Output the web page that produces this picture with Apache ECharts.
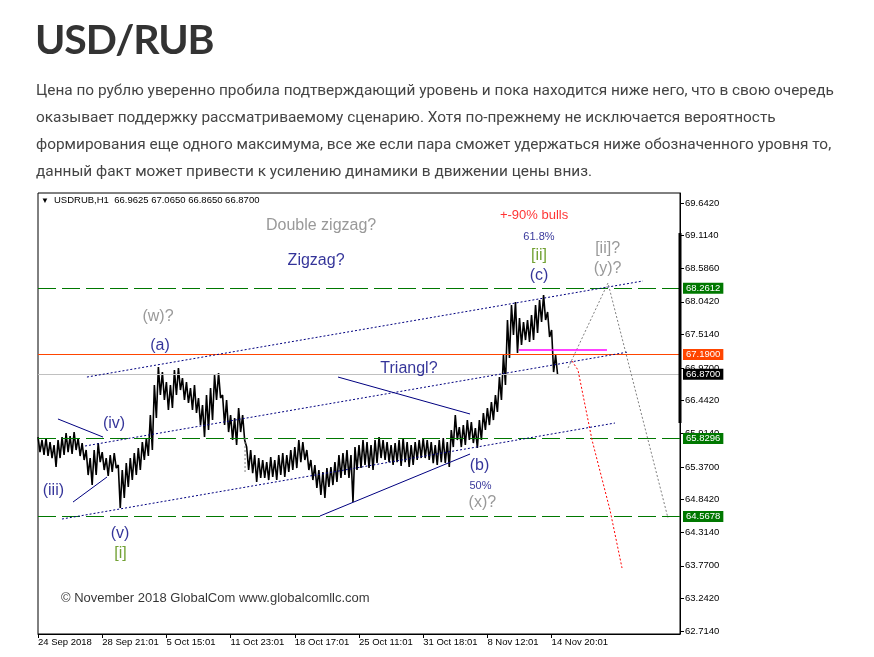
<!DOCTYPE html>
<html><head><meta charset="utf-8">
<script src="https://cdn.jsdelivr.net/npm/echarts@6/dist/echarts.min.js"></script>
<style>
html,body{margin:0;padding:0;background:#fff;width:874px;height:657px;overflow:hidden;}
#chart{position:absolute;left:0;top:0;width:874px;height:657px;}
#title{position:absolute;left:35px;top:14px;font-family:Lato,sans-serif;font-weight:bold;font-size:41px;letter-spacing:-1.1px;line-height:1.2;color:#333;margin:0;white-space:nowrap;}
#para{position:absolute;left:36px;top:77px;font-size:16px;line-height:27px;color:#444;white-space:nowrap;}
</style></head>
<body>
<div id="chart"></div>
<div id="title">USD/RUB</div>
<div id="para"></div>
<script>
// ---------- text ----------
const paraLines = [
  'Цена по рублю уверенно пробила подтверждающий уровень и пока находится ниже него, что в свою очередь',
  'оказывает поддержку рассматриваемому сценарию. Хотя по-прежнему не исключается вероятность',
  'формирования еще одного максимума, все же если пара сможет удержаться ниже обозначенного уровня то,',
  'данный факт может привести к усилению динамики в движении цены вниз.'
];

// ---------- data ----------
const xLabels = ['24 Sep 2018','28 Sep 21:01','5 Oct 15:01','11 Oct 23:01','18 Oct 17:01','25 Oct 11:01','31 Oct 18:01','8 Nov 12:01','14 Nov 20:01'];
const yTicks = [62.714,63.242,63.770,64.314,64.842,65.370,65.914,66.442,66.970,67.514,68.042,68.586,69.114,69.642];

// H1 price range, one entry per 4 bars (high / low)
const barHigh = [65.854,65.806,65.838,65.773,65.725,65.806,65.854,65.919,65.870,65.935,
65.838,65.757,65.644,65.514,65.644,65.757,65.611,65.514,65.563,65.595,
65.401,65.320,65.433,65.514,65.595,65.676,65.773,65.838,66.210,66.696,
66.987,66.906,66.744,66.696,66.939,66.971,66.809,66.744,66.647,66.696,
66.486,66.372,66.534,66.647,66.858,66.890,66.534,66.453,66.210,66.162,
66.324,66.210,65.692,65.644,65.563,65.514,65.482,65.449,65.530,65.482,
65.563,65.595,65.563,65.644,65.692,65.806,65.773,65.644,65.482,65.401,
65.320,65.288,65.352,65.369,65.449,65.563,65.595,65.644,65.563,65.692,
65.725,65.806,65.773,65.725,65.806,65.854,65.806,65.773,65.725,65.757,
65.806,65.838,65.773,65.725,65.773,65.806,65.838,65.806,65.773,65.725,
65.806,65.838,65.773,65.968,66.210,66.016,66.048,66.129,66.097,66.000,
66.129,66.243,66.324,66.421,66.534,66.825,67.182,67.748,67.991,68.039,
67.780,67.716,67.748,67.829,67.991,68.072,68.153,67.878,67.586,67.182];
const barLow = [65.611,65.563,65.547,65.514,65.369,65.514,65.563,65.611,65.579,65.644,
65.547,65.482,65.239,65.077,65.239,65.449,65.320,65.223,65.288,65.352,
64.705,64.867,65.045,65.158,65.239,65.320,65.482,65.547,65.644,66.162,
66.534,66.453,66.291,66.324,66.534,66.615,66.453,66.405,66.291,66.243,
66.048,65.854,65.968,66.129,66.453,66.486,66.048,65.935,65.806,65.725,
65.935,65.806,65.320,65.271,65.126,65.191,65.191,65.158,65.207,65.158,
65.239,65.207,65.288,65.320,65.352,65.449,65.482,65.320,65.158,65.029,
64.915,64.867,65.045,65.077,65.126,65.191,65.239,65.191,64.802,65.320,
65.352,65.401,65.352,65.320,65.433,65.514,65.482,65.449,65.401,65.449,
65.385,65.449,65.369,65.401,65.482,65.514,65.514,65.482,65.433,65.401,
65.449,65.433,65.369,65.692,65.806,65.692,65.725,65.806,65.757,65.676,
65.806,65.968,66.048,66.129,66.259,66.453,66.696,67.133,67.505,67.214,
67.343,67.424,67.392,67.424,67.538,67.716,67.748,67.473,66.906,66.858];

const levelGreen = [68.2612, 65.8296, 64.5678];
const levelOrange = [67.19];
const levelBid = [66.87];

// drawn objects, in [bar, price]
const channelLines = [
  [[48.8,66.825],[603.1,68.380]],
  [[46.9,65.709],[588.2,67.230]],
  [[23.9,64.527],[575.2,66.081]]
];
const solidLines = [
  [[19.9,66.146],[64.8,65.854]],
  [[34.9,64.802],[68.8,65.207]],
  [[299.1,66.825],[430.7,66.227]],
  [[281.1,64.576],[430.7,65.579]]
];
const grayPath = [[528.4,66.971],[568.2,68.347],[628.0,64.543]];
const redPath = [[532.3,67.085],[538.3,66.939],[552.3,65.806],[570.2,64.673],[582.2,63.734]];
const magentaLine = [[479.5,67.263],[567.2,67.263]];
const grayVertical = [[206.4,65.838],[206.4,65.288]];
const scaleBar = [[640,69.156],[640,66.081]];

const navyText = ['Zigzag?','(c)','(a)','Triangl?','(iv)','(iii)','(v)','(b)'];
const navyPos = [[277.2,68.703],[499.4,68.465],[121.6,67.330],[369.8,66.955],[75.8,66.070],[15.3,64.980],[81.7,64.295],[440.1,65.385]];
const grayText = ['Double zigzag?','[ii]?','(y)?','(w)?','(x)?'];
const grayPos = [[282.2,69.270],[567.8,68.905],[567.8,68.574],[119.6,67.797],[443.0,64.790]];
const greenText = ['[ii]','[i]'];
const greenPos = [[499.4,68.784],[82.3,63.961]];
const smallText = ['61.8%','50%'];
const smallPos = [[499.4,69.092],[441.1,65.061]];
const redText = ['+-90% bulls'];
const redPos = [[494.5,69.448]];
const noteText = ['© November 2018 GlobalCom www.globalcomllc.com'];
const notePos = [[22.9,63.248]];

// ---------- paragraph (pick the installed face whose metrics fit the column best) ----------
(function () {
  const targets = [795, 738, 790, 573];
  const fams = ['Lato', 'Noto Sans', 'Open Sans', 'Roboto', 'Inter', 'Liberation Sans', 'DejaVu Sans'];
  const ctx = document.createElement('canvas').getContext('2d');
  let best = null;
  fams.forEach(f => {
    ctx.font = '16px "' + f + '"';
    const w = paraLines.map(l => ctx.measureText(l).width);
    let num = 0, den = 0;
    w.forEach((wi, i) => { num += wi * targets[i]; den += wi * wi; });
    const s = num / den;
    let err = 0;
    w.forEach((wi, i) => { err += Math.pow(s * wi - targets[i], 2); });
    const penal = err + Math.pow((s - 1) * 200, 2);
    if (!best || penal < best.e) best = {f, s, e: penal};
  });
  const p = document.getElementById('para');
  p.style.fontFamily = '"' + best.f + '", Lato, sans-serif';
  p.style.fontSize = (16 * best.s).toFixed(2) + 'px';
  p.innerHTML = paraLines.join('<br>');
})();

// ---------- chart ----------
const FONT = '"Liberation Sans", Arial, sans-serif';
const STEP = 4;
const pricePts = [];
barHigh.forEach((h, i) => { pricePts.push([i * STEP, h]); pricePts.push([i * STEP + STEP / 2, barLow[i]]); });
const xTickVals = xLabels.map((_, i) => i * 64);

function lineSeries(data, color, width, type, z) {
  return {type:'line', data, symbol:'none', silent:true, clip:false, z:z||3,
    lineStyle:{color, width, type}, animation:false};
}
function textSeries(texts, pos, color, size, extra) {
  return Object.assign({type:'scatter', symbolSize:0, silent:true, z:6, clip:false,
    data: texts.map((t, i) => ({name:t, value:pos[i]})),
    label:{show:true, position:'inside', formatter:'{b}', color, fontSize:size, fontFamily:FONT}}, extra||{});
}
function levelLine(v, lineColor, lineType, boxColor, textColor) {
  return {yAxis:v, lineStyle:{color:lineColor, type:lineType, width:1},
    label:{show:true, position:'end', distance:3, formatter:(p)=>p.value.toFixed(4), color:textColor,
      backgroundColor:boxColor, padding:[1,3,0,3], fontSize:9.5, fontFamily:FONT}};
}

const series = [];
series.push({type:'line', data:[], symbol:'none', silent:true, z:2,
  markLine:{silent:true, symbol:'none', animation:false, precision:4, data:[
    ...levelGreen.map(v => levelLine(v, '#007800', [18,6], '#007800', '#fff')),
    ...levelOrange.map(v => levelLine(v, '#ff4500', 'solid', '#ff4500', '#fff')),
    ...levelBid.map(v => levelLine(v, '#c0c0c0', 'solid', '#000', '#fff'))
  ]}});
series.push(lineSeries(pricePts, '#000', 1.6, 'solid', 4));
channelLines.forEach(l => series.push(lineSeries(l, '#000080', 1, [2,2], 5)));
solidLines.forEach(l => series.push(lineSeries(l, '#000080', 1, 'solid', 5)));
series.push(lineSeries(grayPath, '#808080', 1, [2,2], 5));
series.push(lineSeries(redPath, '#ff0000', 1, [2,2], 5));
series.push(lineSeries(magentaLine, '#ff00ff', 1.5, 'solid', 5));
series.push(lineSeries(grayVertical, '#808080', 1, [2,2], 5));
series.push(lineSeries(scaleBar, '#000', 3, 'solid', 5));
series.push(textSeries(navyText, navyPos, '#000080', 16));
series.push(textSeries(grayText, grayPos, '#808080', 16));
series.push(textSeries(greenText, greenPos, '#4f8a00', 16));
series.push(textSeries(smallText, smallPos, '#000080', 11));
series.push(textSeries(redText, redPos, '#ff0000', 13));
series.push(textSeries(noteText, notePos, '#000', 13, {label:{show:true, position:'right', distance:0, formatter:'{b}', color:'#000', fontSize:13, fontFamily:FONT}}));

const chart = echarts.init(document.getElementById('chart'));
chart.setOption({
  animation:false,
  backgroundColor:'transparent',
  title:[
    {text:'▼', left:41, top:197, padding:0, textStyle:{fontSize:8, color:'#000', fontWeight:'normal', fontFamily:FONT}},
    {text:'USDRUB,H1  66.9625 67.0650 66.8650 66.8700', left:54, top:195, padding:0,
      textStyle:{fontSize:9.5, color:'#000', fontWeight:'normal', fontFamily:FONT}}
  ],
  grid:{left:38, right:194, top:193, bottom:23, show:true, borderColor:'#000', borderWidth:1, backgroundColor:'#fff'},
  xAxis:{type:'value', min:0, max:640, splitLine:{show:false},
    axisLine:{onZero:false, lineStyle:{color:'#000'}},
    axisTick:{customValues:xTickVals, length:4, lineStyle:{color:'#000'}},
    axisLabel:{customValues:xTickVals, align:'left', margin:3, fontSize:9.5, fontFamily:FONT, color:'#000',
      formatter:(v)=> xLabels[Math.round(v/64)] || ''}},
  yAxis:{type:'value', position:'right', min:62.666, max:69.804, scale:true, splitLine:{show:false},
    axisLine:{show:true, onZero:false, lineStyle:{color:'#000'}},
    axisTick:{show:true, customValues:yTicks, length:4, lineStyle:{color:'#000'}},
    axisLabel:{customValues:yTicks, margin:5, fontSize:9.5, fontFamily:FONT, color:'#000',
      formatter:(v)=> v.toFixed(4)}},
  series
});
</script>
</body></html>
